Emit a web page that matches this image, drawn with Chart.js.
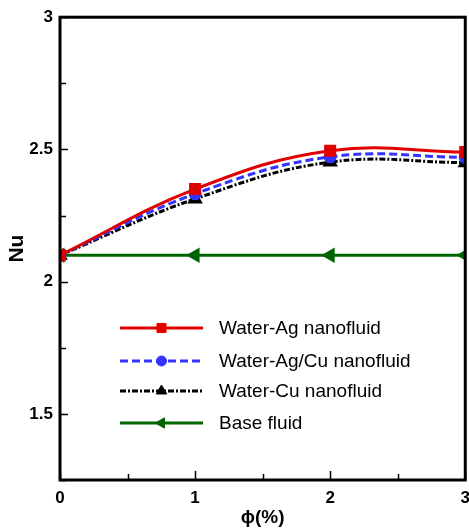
<!DOCTYPE html>
<html>
<head>
<meta charset="utf-8">
<script src="https://cdn.jsdelivr.net/npm/chart.js@4/dist/chart.umd.min.js"></script>
<style>
  body { margin: 0; background: #fff; overflow: hidden; }
  #wrap { width: 478px; height: 529px; }
</style>
</head>
<body>
<div id="wrap"><canvas id="nu-chart"></canvas></div>
<script>
// data
var phi = [0, 1, 2, 3];
var waterAg = [2.1, 2.35, 2.495, 2.49];
var waterAgCu = [2.1, 2.332, 2.472, 2.47];
var waterCu = [2.1, 2.313, 2.452, 2.45];
var baseFluid = [2.1, 2.1, 2.1, 2.1];

var seriesNames = ["Water-Ag nanofluid", "Water-Ag/Cu nanofluid", "Water-Cu nanofluid", "Base fluid"];

var xTicks = [0, 1, 2, 3];
var xMinor = [0.5, 1.5, 2.5];
var yTicks = [1.5, 2, 2.5, 3];
var yMinor = [1.25, 1.75, 2.25, 2.75];

function pts(ys) {
    return phi.map(function (x, i) { return { x: x, y: ys[i] }; });
}

// box, inward tick marks and the legend inside the plot
var framePlugin = {
    id: 'frame',
    afterDraw: function (chart) {
        var ctx = chart.ctx;
        var a = chart.chartArea;
        var xs = chart.scales.x, ys = chart.scales.y;
        ctx.save();
        ctx.strokeStyle = '#000';
        ctx.lineWidth = 1.5;
        yTicks.concat(yMinor).forEach(function (v) {
            var len = yTicks.indexOf(v) >= 0 ? 8 : 6;
            var py = Math.round(ys.getPixelForValue(v)) + 0.5;
            ctx.beginPath(); ctx.moveTo(a.left, py); ctx.lineTo(a.left + len, py); ctx.stroke();
        });
        xTicks.concat(xMinor).forEach(function (v) {
            var len = xTicks.indexOf(v) >= 0 ? 9 : 6;
            var px = Math.round(xs.getPixelForValue(v)) + 0.5;
            ctx.beginPath(); ctx.moveTo(px, a.bottom); ctx.lineTo(px, a.bottom - len); ctx.stroke();
        });
        ctx.lineWidth = 3;
        ctx.strokeRect(a.left, a.top, a.right - a.left, a.bottom - a.top);

        // legend
        var rowY = [328, 361, 391, 423];
        var x0 = 120, x1 = 203;
        chart.data.datasets.forEach(function (ds, i) {
            var y = rowY[i];
            ctx.strokeStyle = ds.borderColor;
            ctx.lineWidth = ds.borderWidth;
            ctx.setLineDash(ds.borderDash || []);
            ctx.beginPath(); ctx.moveTo(x0, y); ctx.lineTo(x1, y); ctx.stroke();
            ctx.setLineDash([]);
            ctx.fillStyle = ds.pointBackgroundColor;
            ctx.strokeStyle = ds.pointBorderColor;
            ctx.lineWidth = 1;
            Chart.helpers.drawPoint(ctx, {
                pointStyle: ds.pointStyle, radius: ds.pointRadius,
                rotation: ds.pointRotation || 0, borderWidth: 1
            }, (x0 + x1) / 2, y);
            ctx.fillStyle = '#000';
            ctx.font = '19px "Liberation Sans", Arial, sans-serif';
            ctx.textBaseline = 'middle';
            ctx.fillText(ds.label, 219, y + 1);
        });
        ctx.restore();
    }
};

var ctx = document.getElementById('nu-chart').getContext('2d');
var chart = new Chart(ctx, {
    type: 'line',
    data: {
        datasets: [{
            label: seriesNames[0],
            data: pts(waterAg),
            borderColor: '#e00000',
            borderWidth: 3,
            pointStyle: 'rect',
            pointRadius: 6.4,
            pointBackgroundColor: '#e00000',
            pointBorderColor: '#e00000',
        }, {
            label: seriesNames[1],
            data: pts(waterAgCu),
            borderColor: '#3333ff',
            borderWidth: 3,
            borderDash: [8, 4],
            pointStyle: 'circle',
            pointRadius: 5,
            pointBackgroundColor: '#3333ff',
            pointBorderColor: '#3333ff',
        }, {
            label: seriesNames[2],
            data: pts(waterCu),
            borderColor: '#000',
            borderWidth: 3,
            borderDash: [6, 2, 2, 2],
            pointStyle: 'triangle',
            pointRadius: 6,
            pointBackgroundColor: '#000',
            pointBorderColor: '#000',
        }, {
            label: seriesNames[3],
            data: pts(baseFluid),
            borderColor: '#006400',
            borderWidth: 3,
            pointStyle: 'triangle',
            pointRotation: -90,
            pointRadius: 6,
            pointBackgroundColor: '#006400',
            pointBorderColor: '#006400',
        }]
    },
    options: {
        responsive: true,
        maintainAspectRatio: false,
        animation: false,
        layout: { padding: { top: 15, right: 0, left: 0, bottom: 0 } },
        elements: { line: { tension: 0.4 } },
        plugins: { legend: { display: false }, tooltip: { enabled: false } },
        scales: {
            x: {
                type: 'linear',
                min: 0, max: 3,
                grid: { display: false, drawTicks: false },
                border: { display: false },
                afterBuildTicks: function (s) { s.ticks = xTicks.map(function (v) { return { value: v }; }); },
                afterFit: function (s) { s.height = 49; },
                ticks: {
                    color: '#000', padding: 8,
                    callback: function (v) { return String(v); },
                    font: { family: '"Liberation Sans", Arial, sans-serif', size: 17, weight: 'bold' }
                },
                title: {
                    display: true, text: 'ϕ(%)', color: '#000',
                    padding: { top: 0, bottom: 0 },
                    font: { family: '"Liberation Sans", Arial, sans-serif', size: 19, weight: 'bold' }
                }
            },
            y: {
                min: 1.25, max: 3,
                grid: { display: false, drawTicks: false },
                border: { display: false },
                afterBuildTicks: function (s) { s.ticks = yTicks.map(function (v) { return { value: v }; }); },
                afterFit: function (s) { s.width = 60; },
                ticks: {
                    color: '#000', padding: 7,
                    callback: function (v) { return String(v); },
                    font: { family: '"Liberation Sans", Arial, sans-serif', size: 17, weight: 'bold' }
                },
                title: {
                    display: true, text: 'Nu', color: '#000',
                    padding: { top: 5, bottom: 0 },
                    font: { family: '"Liberation Sans", Arial, sans-serif', size: 21, weight: 'bold' }
                }
            }
        }
    },
    plugins: [framePlugin]
});
</script>
</body>
</html>
